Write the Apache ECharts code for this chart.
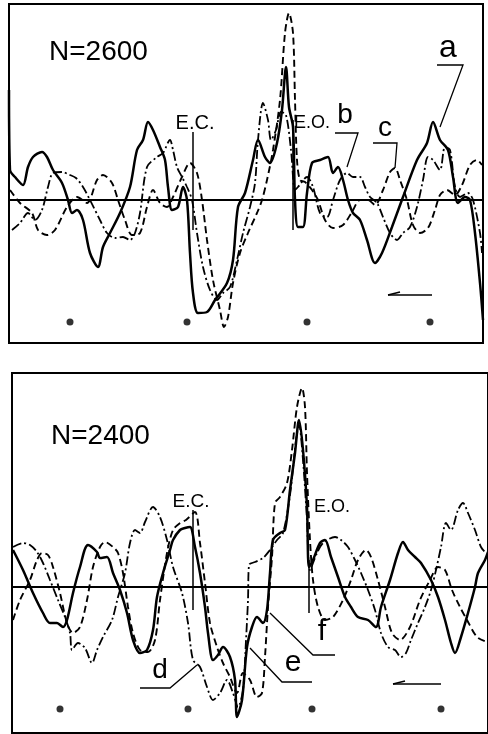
<!DOCTYPE html>
<html>
<head>
<meta charset="utf-8">
<script src="https://cdn.jsdelivr.net/npm/echarts@6/dist/echarts.min.js"></script>
<style>
  html, body { margin: 0; padding: 0; background: #fff; }
  #chart { width: 488px; height: 734px; }
</style>
</head>
<body>
<div id="chart"></div>
<script>
// time offset (arbitrary units) and amplitude (arbitrary units, + is up)
const topSolid = [[0,110],[1,30],[6,23],[14,15],[19,33],[24,43],[33,48],[38,43],[44,30],[53,17],[59,0],[63,-13],[68,-10],[74,-20],[81,-53],[89,-67],[94,-47],[101,-33],[111,-13],[121,13],[128,50],[134,60],[139,78],[144,70],[151,53],[156,40],[159,13],[163,-10],[169,-7],[174,13],[178,0],[181,-53],[184,-93],[189,-113],[198,-112],[206,-100],[218,-83],[224,-60],[229,-7],[236,7],[244,40],[249,60],[256,43],[261,37],[268,57],[273,90],[277,133],[280,93],[284,73],[286,0],[289,-27],[294,-27],[298,7],[303,37],[311,40],[319,43],[324,27],[329,33],[334,20],[339,0],[344,-13],[351,-20],[358,-40],[366,-63],[373,-53],[383,-27],[394,3],[408,40],[418,57],[424,78],[431,60],[439,50],[444,23],[449,-3],[456,3],[461,0],[466,-33],[471,-83],[474,-120]];
const topDashed = [[1,10],[11,-3],[23,-13],[29,-30],[38,-35],[46,-30],[58,-7],[68,3],[78,-3],[88,20],[94,25],[103,17],[109,0],[116,-20],[123,-35],[131,-33],[138,-7],[144,10],[151,-3],[158,-7],[164,3],[173,23],[181,37],[188,27],[193,0],[198,-40],[204,-80],[211,-110],[215,-127],[219,-117],[224,-83],[231,-53],[239,-33],[248,-13],[253,0],[258,20],[264,50],[271,100],[276,167],[280,187],[284,167],[286,100],[288,40],[291,20],[296,18],[303,10],[309,0],[316,-20],[324,-28],[334,-25],[343,-12],[351,0],[359,0],[366,-5],[374,10],[381,28],[386,32],[391,20],[398,0],[404,-25],[411,-33],[419,-28],[426,-10],[431,5],[438,10],[446,5],[453,15],[461,35],[468,40],[473,35]];
const topDashDot = [[3,-30],[11,-23],[19,-13],[26,-20],[33,-10],[39,13],[44,27],[53,28],[61,25],[67,22],[74,13],[81,0],[91,-20],[98,-33],[106,-38],[114,-37],[121,-40],[126,-33],[131,-13],[138,33],[148,43],[154,47],[161,60],[164,50],[168,33],[173,23],[178,13],[183,0],[188,-33],[194,-67],[201,-90],[208,-100],[214,-93],[221,-87],[228,-60],[234,-33],[241,-7],[246,17],[249,60],[254,97],[259,80],[262,60],[267,70],[272,88],[277,85],[282,50],[286,10],[289,13],[298,23],[304,13],[311,-13],[318,-17],[324,0],[331,20],[338,27],[344,23],[351,23],[356,13],[361,3],[368,-3],[374,-17],[381,-33],[388,-40],[394,-33],[401,-27],[408,-7],[414,20],[419,43],[424,40],[431,30],[436,53],[441,50],[446,13],[451,3],[459,7],[464,0],[471,-33],[473,-53]];

const bottomSolid = [[1,37],[11,17],[21,-6],[31,-26],[38,-36],[45,-36],[51,-40],[55,-33],[61,-6],[68,20],[76,42],[85,35],[88,29],[95,30],[101,14],[108,-3],[115,-26],[121,-53],[128,-66],[135,-63],[141,-43],[145,-10],[151,14],[158,37],[161,47],[168,57],[173,59],[178,60],[183,40],[188,14],[193,-20],[196,-46],[201,-73],[206,-68],[211,-60],[218,-70],[223,-93],[225,-130],[230,-113],[235,-60],[240,-40],[245,-30],[251,-36],[255,-23],[258,14],[261,47],[268,54],[273,57],[278,97],[283,134],[287,167],[291,137],[295,80],[297,20],[301,27],[308,44],[313,47],[319,30],[326,10],[333,-10],[339,-20],[346,-30],[356,-33],[364,-40],[369,-20],[378,7],[386,34],[391,45],[396,37],[403,30],[409,24],[419,7],[426,-10],[433,-33],[439,-56],[443,-66],[449,-50],[456,-26],[463,0],[466,14],[473,27],[476,35]];
const bottomDashed = [[1,-33],[8,-13],[18,7],[25,27],[30,34],[36,32],[41,20],[48,-6],[55,-36],[61,-46],[68,-40],[75,-13],[81,20],[88,40],[93,45],[101,40],[106,34],[111,14],[116,-20],[121,-46],[128,-63],[136,-65],[143,-53],[148,-13],[155,34],[161,57],[168,64],[174,67],[183,75],[188,44],[193,4],[198,-36],[205,-60],[211,-76],[218,-90],[225,-106],[231,-86],[238,-93],[245,-110],[250,-106],[253,-70],[256,-20],[260,30],[263,84],[268,90],[275,104],[280,137],[285,180],[290,199],[293,180],[295,114],[298,47],[301,7],[306,-20],[313,-33],[321,-30],[331,-13],[339,7],[346,27],[354,37],[359,30],[366,7],[373,-20],[380,-46],[388,-53],[398,-40],[408,-13],[418,7],[426,20],[433,17],[440,-3],[448,-20],[455,-33],[465,-50],[475,-55]];
const bottomDashDot = [[1,40],[11,44],[18,42],[25,35],[31,24],[38,7],[46,-13],[53,-30],[58,-46],[60,-63],[66,-56],[73,-61],[80,-76],[85,-63],[91,-50],[100,-33],[106,-10],[113,14],[118,44],[123,57],[128,54],[133,65],[141,80],[148,70],[155,47],[161,20],[170,-6],[176,-36],[181,-73],[188,-80],[195,-100],[201,-113],[208,-106],[215,-93],[221,-106],[226,-120],[231,-103],[234,-53],[236,-13],[237,22],[243,25],[251,29],[258,37],[265,47],[271,54],[278,92],[284,147],[287,162],[291,127],[295,67],[298,17],[305,34],[311,44],[323,50],[329,47],[336,40],[343,27],[349,14],[356,-3],[363,-23],[369,-46],[376,-60],[383,-63],[389,-70],[394,-66],[399,-53],[406,-36],[413,-20],[419,-3],[424,17],[429,40],[434,64],[439,57],[446,77],[451,84],[456,74],[463,57],[469,40],[474,34]];

// time marks (dots) and event lines [time, upper, lower]
const topDots = [[61,-122],[178,-122],[298,-122],[421,-122]];
const bottomDots = [[48,-122],[176,-122],[300,-122],[429,-122]];
const topEvents = [[184,68,-30],[284,80,-30]];
const bottomEvents = [[181,77,-23],[297,27,-26]];

const titles = ["N=2600", "N=2400"];

const ink = "#000";
const font = "Liberation Sans, Arial, sans-serif";

const chart = echarts.init(document.getElementById("chart"));

function curve(data, idx, type, width) {
  return {
    type: "line",
    xAxisIndex: idx,
    yAxisIndex: idx,
    data: data,
    showSymbol: false,
    smooth: 0.3,
    silent: true,
    animation: false,
    lineStyle: { color: ink, width: width, type: type },
  };
}

function eventLines(events, idx) {
  return {
    type: "line",
    xAxisIndex: idx,
    yAxisIndex: idx,
    data: [],
    silent: true,
    markLine: {
      symbol: "none",
      animation: false,
      label: { show: false },
      lineStyle: { color: ink, width: 1.5, type: "solid" },
      data: events.map((e) => [{ coord: [e[0], e[1]] }, { coord: [e[0], e[2]] }]),
    },
  };
}

function dots(data, idx) {
  return {
    type: "scatter",
    xAxisIndex: idx,
    yAxisIndex: idx,
    data: data,
    symbolSize: 7,
    silent: true,
    itemStyle: { color: ink },
  };
}

const xBase = {
  type: "value",
  min: 0,
  axisLine: { show: true, onZero: true, lineStyle: { color: ink, width: 2 } },
  axisTick: { show: false },
  axisLabel: { show: false },
  splitLine: { show: false },
};
const yBase = {
  type: "value",
  axisLine: { show: false },
  axisTick: { show: false },
  axisLabel: { show: false },
  splitLine: { show: false },
};

function txt(text, x, y, size) {
  return {
    type: "text",
    style: { text: text, x: x, y: y, fill: ink, font: size + "px " + font, textAlign: "center", textVerticalAlign: "middle" },
  };
}
function leader(points, w) {
  return { type: "polyline", shape: { points: points }, style: { stroke: ink, lineWidth: w || 1.3, fill: null } };
}

const option = {
  backgroundColor: "#fff",
  animation: false,
  title: [
    { text: titles[0], left: 44, top: 33, textStyle: { fontSize: 28, fontWeight: "normal", color: ink, fontFamily: font } },
    { text: titles[1], left: 46, top: 417, textStyle: { fontSize: 28, fontWeight: "normal", color: ink, fontFamily: font } },
  ],
  grid: [
    { left: 9, top: 4, width: 474, height: 339, show: true, borderColor: ink, borderWidth: 2 },
    { left: 12, top: 373, width: 476, height: 360, show: true, borderColor: ink, borderWidth: 2 },
  ],
  xAxis: [
    Object.assign({}, xBase, { gridIndex: 0, max: 474 }),
    Object.assign({}, xBase, { gridIndex: 1, max: 476 }),
  ],
  yAxis: [
    Object.assign({}, yBase, { gridIndex: 0, min: -143, max: 196 }),
    Object.assign({}, yBase, { gridIndex: 1, min: -146, max: 214 }),
  ],
  series: [
    curve(topDashed, 0, [7, 4], 1.9),
    curve(topDashDot, 0, [9, 3, 2, 3], 1.8),
    curve(topSolid, 0, "solid", 2.5),
    eventLines(topEvents, 0),
    dots(topDots, 0),
    curve(bottomDashed, 1, [7, 4], 1.9),
    curve(bottomDashDot, 1, [9, 3, 2, 3], 1.8),
    curve(bottomSolid, 1, "solid", 2.5),
    eventLines(bottomEvents, 1),
    dots(bottomDots, 1),
  ],
  graphic: [
    txt("E.C.", 195, 123, 20),
    txt("E.O.", 312, 123, 18),
    txt("a", 448, 48, 32),
    txt("b", 345, 115, 28),
    txt("c", 385, 128, 28),
    leader([[437, 65], [463, 65], [440, 127]]),
    leader([[335, 133], [358, 133], [347, 167]]),
    leader([[373, 143], [397, 143], [395, 168]]),
    leader([[388, 295], [432, 295]], 1.5),
    leader([[388, 295], [400, 292]], 1.5),
    txt("E.C.", 191, 502, 19),
    txt("E.O.", 332, 507, 18),
    txt("d", 160, 670, 28),
    txt("e", 293, 663, 30),
    txt("f", 322, 632, 30),
    leader([[140, 688], [170, 688], [197, 665]]),
    leader([[250, 648], [282, 682], [312, 682]]),
    leader([[270, 613], [313, 655], [335, 655]]),
    leader([[393, 684], [441, 684]], 1.5),
    leader([[393, 684], [405, 681]], 1.5),
  ],
};

chart.setOption(option);
window.addEventListener("resize", chart.resize);
</script>
</body>
</html>
